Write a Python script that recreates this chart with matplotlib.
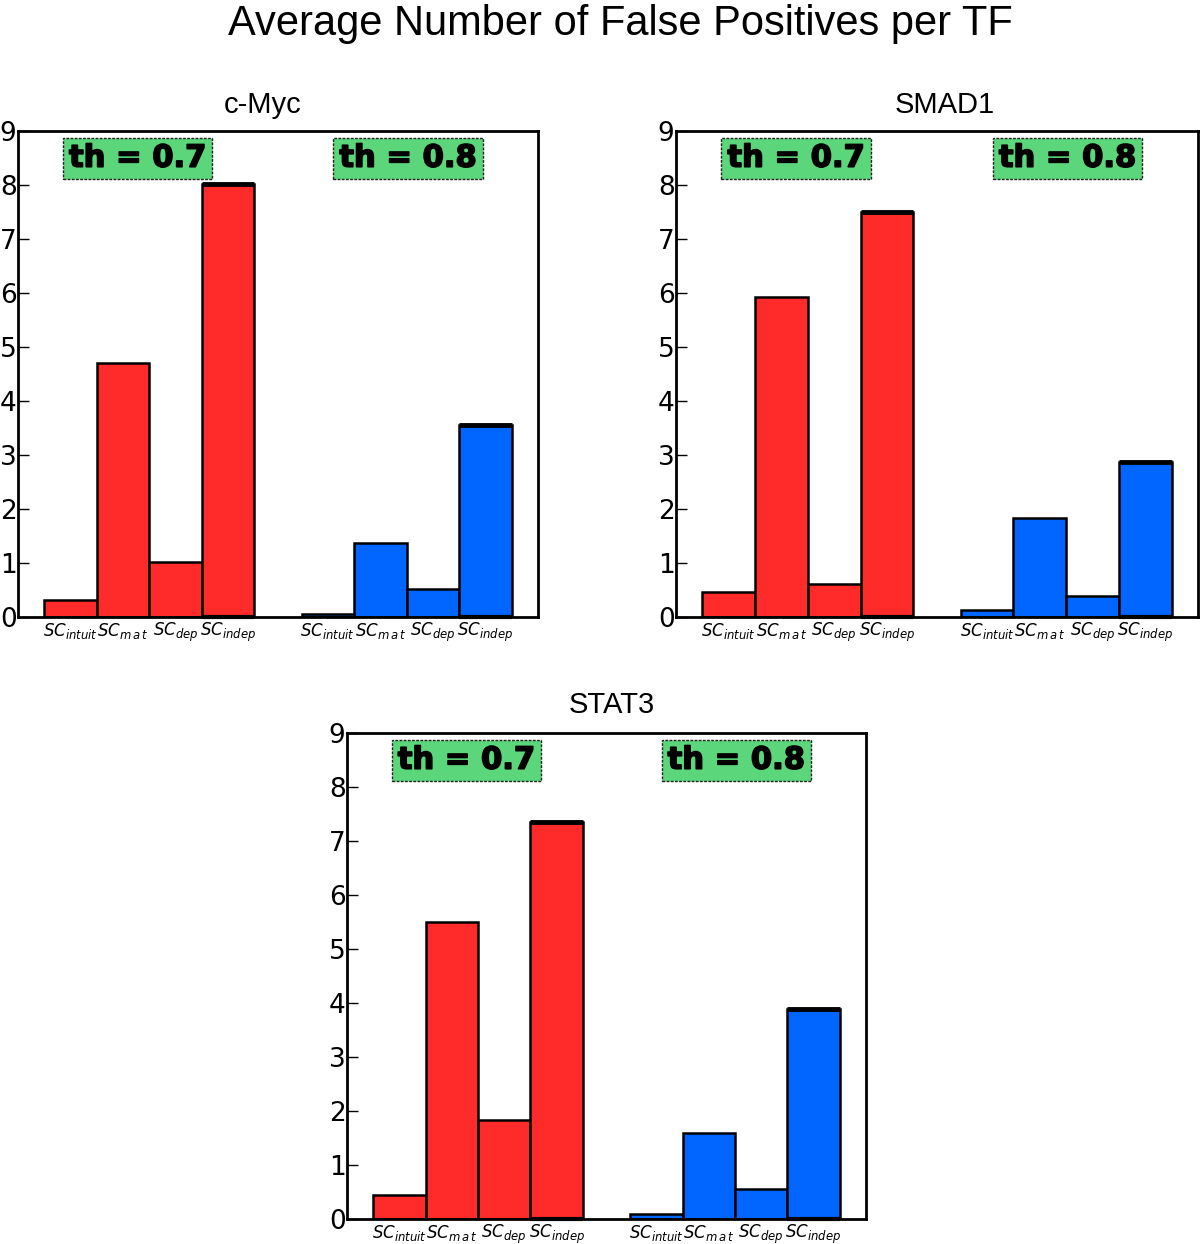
import matplotlib
matplotlib.use("Agg")
import matplotlib.pyplot as plt
import matplotlib.patheffects as pe
import numpy as np

plt.rcParams['mathtext.fontset'] = 'dejavusans'

tfs = ["c-Myc", "SMAD1", "STAT3"]
methods = [r"$SC_{intuit}$", r"$SC_{m\,a\,t}$", r"$SC_{dep}$", r"$SC_{indep}$"]
th_labels = ["th = 0.7", "th = 0.8"]

red_vals = {
    "c-Myc": [0.31, 4.71, 1.02, 8.02],
    "SMAD1": [0.46, 5.93, 0.61, 7.50],
    "STAT3": [0.44, 5.50, 1.83, 7.35],
}
blue_vals = {
    "c-Myc": [0.06, 1.37, 0.52, 3.56],
    "SMAD1": [0.13, 1.84, 0.39, 2.87],
    "STAT3": [0.10, 1.59, 0.56, 3.89],
}

RED = "#FF2B2B"
BLUE = "#0066FF"
GREEN = "#5CD67B"

W, H = 1200, 1244
fig = plt.figure(figsize=(W / 100, H / 100), dpi=100)

def ax_rect(l, t, r, b):
    return [l / W, 1 - b / H, (r - l) / W, (b - t) / H]

rects = [ax_rect(18, 131, 538, 617), ax_rect(676, 131, 1198, 617), ax_rect(347, 733, 866, 1219)]
title_x = [263, 945, 612]
title_y = [105, 105, 705]

x_red = np.arange(4) + 0.5
x_blue = np.arange(4) + 5.4

for tf, rect, tx, ty in zip(tfs, rects, title_x, title_y):
    ax = fig.add_axes(rect)
    ax.bar(x_red, red_vals[tf], width=1.0, color=RED, edgecolor="black", linewidth=1.8, zorder=2)
    ax.bar(x_blue, blue_vals[tf], width=1.0, color=BLUE, edgecolor="black", linewidth=1.8, zorder=2)
    for xs, vals in ((x_red, red_vals[tf]), (x_blue, blue_vals[tf])):
        ax.hlines([vals[3]], xs[3] - 0.5, xs[3] + 0.5, colors="black", linewidth=3.5, zorder=3)
        ax.hlines([0], xs[3] - 0.5, xs[3] + 0.5, colors="black", linewidth=3.0, zorder=3, clip_on=False)
    ax.set_xlim(-0.5, 9.4)
    ax.set_ylim(0, 9)
    ax.set_yticks(range(10))
    ax.set_yticklabels([str(i) for i in range(10)], fontsize=19, family="DejaVu Sans")
    ax.tick_params(axis="y", direction="in", length=8, width=1, right=False, pad=1)
    ax.set_xticks(np.concatenate([x_red, x_blue]))
    ax.set_xticklabels(methods * 2, fontsize=12)
    ax.tick_params(axis="x", length=0, pad=3)
    for s in ax.spines.values():
        s.set_linewidth(2)
    fig.text(tx / W, 1 - ty / H, tf, fontsize=21, family="Liberation Sans", ha="center", va="center")
    for xpos, lab in zip((0.23, 0.75), th_labels):
        ax.text(xpos, 0.944, lab, transform=ax.transAxes, ha="center", va="center",
                fontsize=22, fontweight="bold", family="DejaVu Sans", zorder=5,
                path_effects=[pe.withStroke(linewidth=1.2, foreground="black")],
                bbox=dict(boxstyle="square,pad=0.2", facecolor=GREEN, edgecolor="#222222",
                          linestyle=(0, (2, 1)), linewidth=1))

fig.text(620 / W, 1 - 24 / H, "Average Number of False Positives per TF", ha="center", va="center",
         fontsize=30, family="Liberation Sans")

fig.savefig("out.png", dpi=100)
